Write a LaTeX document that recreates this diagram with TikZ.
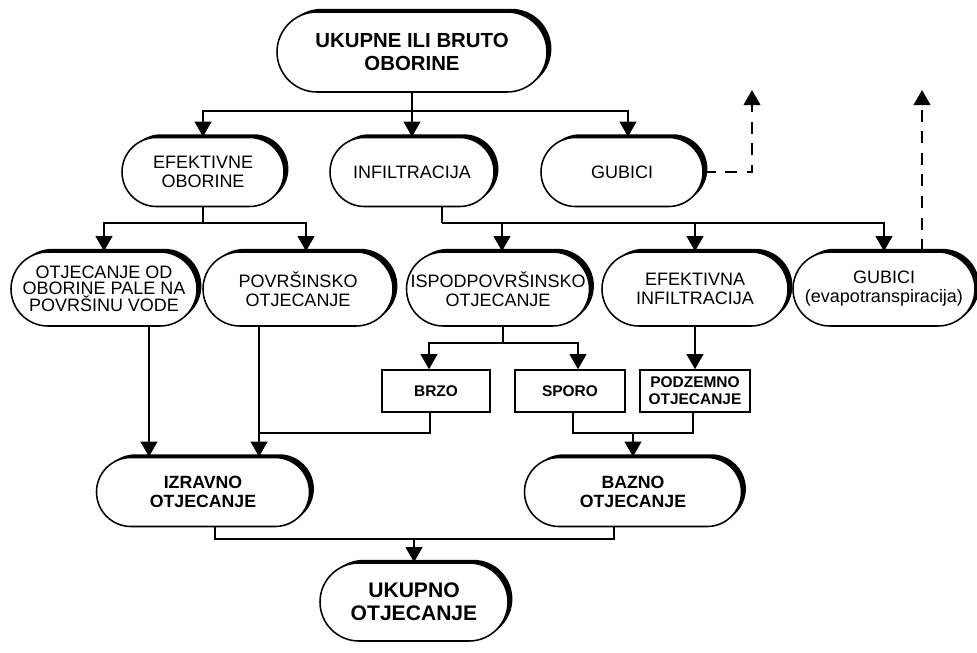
\documentclass[tikz,border=0pt]{standalone}
\usepackage{fontspec}
\setmainfont{Liberation Sans}
\usetikzlibrary{%
  arrows.meta,%
  shadows%
}
\tikzset{>={Triangle[length=3.8mm,width=4.2mm]}}
\tikzset{
  pill/.style={draw, fill=white, rectangle, rounded corners=0.5*#1,
    minimum height=#1, inner sep=0pt, align=center, line width=1.1pt,
    general shadow={fill=black, shadow xshift=1.1mm, shadow yshift=0.8mm}},
  box/.style={draw, fill=white, rectangle, minimum height=10.5mm,
    inner sep=0pt, align=center, line width=1pt,
    font=\fontsize{11}{12}\selectfont\bfseries},
  link/.style={line width=1.3pt},
  loss/.style={link, ->, dash pattern=on 3mm off 2.4mm},
  txt/.style={font=\fontsize{12.8}{13.5}\selectfont},
  btxt/.style={font=\fontsize{12.6}{14}\selectfont\bfseries}
}

\begin{document}
\begin{tikzpicture}[x=0.25mm, y=-0.25mm]
        \useasboundingbox (0,0) rectangle (977,652);
        \node[pill=20mm, minimum width=67.5mm, font=\fontsize{14.5}{16}\selectfont\bfseries]
          (ukob) at (412,52) {UKUPNE ILI BRUTO\\OBORINE};

        \node[pill=17.25mm, minimum width=40.5mm, txt] (efob) at (203,172) {EFEKTIVNE\\OBORINE};
        \node[pill=17.25mm, minimum width=41mm, txt] (infl) at (412,172) {INFILTRACIJA};
        \node[pill=17.25mm, minimum width=40.5mm, txt] (gub) at (622,172) {GUBICI};

        \node[pill=18.5mm, minimum width=46.5mm, font=\fontsize{12.8}{11.3}\selectfont]
          (otvo) at (104,289) {OTJECANJE OD\\OBORINE PALE NA\\POVRŠINU VODE};
        \node[pill=18.5mm, minimum width=47.5mm, txt] (povr) at (298,289) {POVRŠINSKO\\OTJECANJE};
        \node[pill=18.5mm, minimum width=45.75mm, txt] (ispo) at (498,289) {ISPODPOVRŠINSKO\\OTJECANJE};
        \node[pill=18.5mm, minimum width=46.5mm, txt] (efin) at (695,289) {EFEKTIVNA\\INFILTRACIJA};
        \node[pill=18.5mm, minimum width=45.5mm, txt] (guev) at (884,289) {GUBICI\\(evapotranspiracija)};

        \node[box, minimum width=27mm] (brzo) at (436,391) {BRZO};
        \node[box, minimum width=27.5mm] (sporo) at (570,391) {SPORO};
        \node[box, minimum width=27.5mm] (podz) at (695,391) {PODZEMNO\\OTJECANJE};

        \node[pill=17.25mm, minimum width=53.25mm, btxt] (izot) at (203,492) {IZRAVNO\\OTJECANJE};
        \node[pill=17.25mm, minimum width=54.25mm, btxt] (baot) at (633,492) {BAZNO\\OTJECANJE};
        \node[pill=19.5mm, minimum width=47mm, font=\fontsize{15}{16.5}\selectfont\bfseries]
          (ukot) at (414,602) {UKUPNO\\OTJECANJE};

        \draw[link] (ukob.south) -- ++(0,18) coordinate (raz);
        \draw[link,->] (raz) -| (efob.north);
        \draw[link,->] (raz) -- (infl.north);
        \draw[link,->] (raz) -| ([xshift=1.5mm]gub.north);

        \coordinate (isp1) at (752,90);
        \coordinate (isp2) at (922,90);
        \draw[loss] (gub.east) -| (isp1);
        \draw[loss] (guev.north -| isp2) -- (isp2);

        \draw[link] (efob.south) -- ++(0,16) coordinate (eoj);
        \draw[link,->] (eoj) -| (otvo.north);
        \draw[link,->] (eoj) -| ([xshift=2mm]povr.north);

        \draw[link] ([xshift=7.5mm]infl.south) -- ++(0,16) coordinate (inj);
        \draw[link,->] (inj) -| ([xshift=1mm]ispo.north);
        \draw[link,->] (inj) -| (efin.north);
        \draw[link,->] (inj) -| (guev.north);

        \draw[link] ([xshift=1.25mm]ispo.south) -- ++(0,16) coordinate (isj);
        \draw[link,->] (isj) -| ([xshift=-1.75mm]brzo.north);
        \draw[link,->] (isj) -| ([xshift=2mm]sporo.north);
        \draw[link,->] (efin.south) -- (podz.north);

        \draw[link,->] ([xshift=11.25mm]otvo.south) -- ([xshift=11.25mm]otvo.south |- izot.north);
        \coordinate (pv) at ([xshift=-9.75mm]povr.south);
        \draw[link,->] (pv) -- (pv |- izot.north);
        \draw[link] ([xshift=-1.5mm]brzo.south) -- ++(0,20) coordinate (bj) -- (bj -| pv);

        \draw[link] ([xshift=0.75mm]sporo.south) -- ++(0,20) coordinate (sj) -| ([xshift=-0.5mm]podz.south);
        \draw[link,->] (sj -| baot.north) -- (baot.north);

        \draw[link] ([xshift=3mm]izot.south) -- ++(0,12) coordinate (ij) -| ([xshift=-4.75mm]baot.south);
        \draw[link,->] (ij -| ukot.north) -- (ukot.north);
      \end{tikzpicture}
\end{document}
